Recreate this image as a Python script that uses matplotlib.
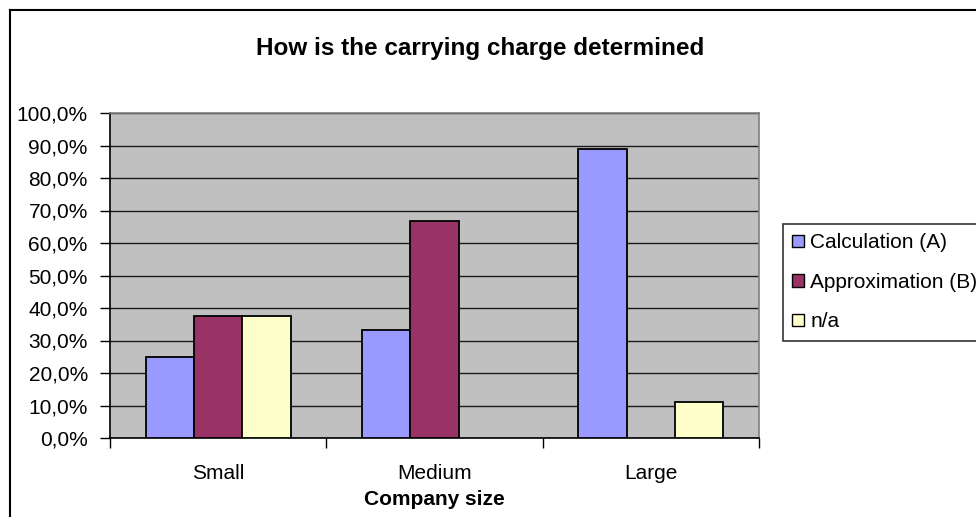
import matplotlib
matplotlib.use("Agg")
import matplotlib.pyplot as plt
from matplotlib.lines import Line2D
from matplotlib.ticker import FuncFormatter, FixedLocator
import numpy as np

plt.rcParams['font.family'] = ['Liberation Sans', 'DejaVu Sans']

categories = ["Small", "Medium", "Large"]
series_names = ["Calculation (A)", "Approximation (B)", "n/a"]
calculation = [25.0, 33.3, 88.9]
approximation = [37.5, 66.7, 0.0]
not_available = [37.5, 0.0, 11.1]
series_values = [calculation, approximation, not_available]
series_colors = ["#9999FF", "#993366", "#FFFFCC"]
y_ticks = list(range(0, 101, 10))

W, H = 976, 517
fig = plt.figure(figsize=(W / 100, H / 100), dpi=100)
fig.patch.set_facecolor("white")

# chart border (left and top edges visible)
fig.add_artist(Line2D([10 / W, 10 / W], [1 - 10 / H, -0.05], color="black", lw=1.5,
                      transform=fig.transFigure))
fig.add_artist(Line2D([10 / W, 1.05], [1 - 10 / H, 1 - 10 / H], color="black", lw=1.5,
                      transform=fig.transFigure))

left, right, top, bottom = 110, 759, 113, 438
ax = fig.add_axes([left / W, 1 - bottom / H, (right - left) / W, (bottom - top) / H])
ax.set_facecolor("#C0C0C0")

x = np.arange(len(categories))
bar_w = 0.223
for i, (vals, color, name) in enumerate(zip(series_values, series_colors, series_names)):
    widths = [1.3 if v > 0 else 0 for v in vals]
    ax.bar(x + (i - 1) * bar_w, vals, width=bar_w, color=color, edgecolor="black",
           linewidth=widths, label=name, zorder=3)

ax.set_xlim(-0.5, len(categories) - 0.5)
ax.set_ylim(0, 100)

ax.yaxis.set_major_locator(FixedLocator(y_ticks))
ax.yaxis.set_major_formatter(FuncFormatter(lambda v, p: f"{v:.1f}%".replace(".", ",")))
ax.grid(axis="y", color="#1a1a1a", lw=1.0, zorder=1)
ax.set_axisbelow(True)

ax.set_xticks(x)
ax.set_xticklabels(categories)
ax.set_xticks(np.arange(-0.5, len(categories), 1.0), minor=True)
ax.tick_params(axis="x", which="major", length=0, pad=19, labelsize=15)
ax.tick_params(axis="x", which="minor", length=7, width=1, direction="out", color="black")
ax.tick_params(axis="y", length=7, width=1, direction="out", pad=9, labelsize=15)

for s in ("left", "bottom"):
    ax.spines[s].set_color("black")
    ax.spines[s].set_linewidth(1.2)
for s in ("top", "right"):
    ax.spines[s].set_color("#808080")
    ax.spines[s].set_linewidth(1.2)

ax.set_xlabel("Company size", fontsize=15, fontweight="bold", labelpad=5)

fig.text(480 / W, 1 - 48 / H, "How is the carrying charge determined", ha="center",
         va="center", fontsize=17.5, fontweight="bold")

leg = ax.legend(loc="upper left", bbox_to_anchor=(783 / W, 1 - 224 / H),
                bbox_transform=fig.transFigure, fontsize=15, frameon=True,
                fancybox=False, edgecolor="black", handlelength=0.55, handleheight=0.55,
                handletextpad=0.3, labelspacing=0.98, borderpad=0.45, borderaxespad=0)
leg.get_frame().set_linewidth(1.2)
for h in leg.legend_handles:
    h.set_linewidth(1.0)

fig.savefig("out.png", dpi=100)
